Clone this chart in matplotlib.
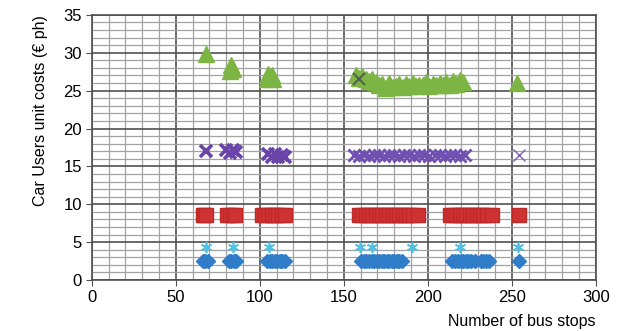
import numpy as np
import matplotlib
matplotlib.use('Agg')
from matplotlib import pyplot as plt
from matplotlib.ticker import MultipleLocator

plt.rcParams['font.family'] = ['Liberation Sans', 'DejaVu Sans']

# Green triangles
green_x = [68, 82, 83, 84, 104, 105, 106, 107, 108,
           157, 159, 161, 163, 165, 167, 169, 171, 173, 175, 177, 179, 181,
           183, 185, 187, 189, 191, 193, 195, 197, 199, 201, 203, 205, 207,
           209, 211, 213, 215, 217, 219, 221, 253]
green_y = [29.9, 27.6, 28.4, 27.8, 26.6, 27.2, 26.8, 27.0, 26.5,
           27.0, 26.7, 26.9, 26.5, 26.3, 26.6, 26.1, 25.8, 25.9, 25.4, 26.0,
           25.5, 25.6, 25.9, 25.5, 25.9, 25.6, 26.0, 25.6, 25.8, 25.7, 26.1,
           25.6, 25.9, 25.7, 26.0, 25.8, 26.2, 25.7, 26.3, 25.9, 26.4, 26.1, 26.0]

# Purple crosses
purple_x = [68, 80, 82, 84, 86, 105, 107, 109, 111, 113, 115]
purple_y = [17.0, 17.2, 16.8, 17.1, 16.9, 16.7, 16.3, 16.6, 16.2, 16.5, 16.3]
purple_cluster_x = [156, 159, 162, 165, 168, 171, 174, 177, 180, 183, 186,
                    189, 192, 195, 198, 201, 204, 207, 210, 213, 216, 219, 222]
purple_cluster_y = [16.5, 16.4, 16.5, 16.4, 16.5, 16.5, 16.4, 16.5, 16.5,
                    16.4, 16.5, 16.5, 16.4, 16.5, 16.5, 16.4, 16.5, 16.5,
                    16.4, 16.5, 16.5, 16.4, 16.5]
purple_last_x = [254]
purple_last_y = [16.5]

# Grey cross in the green cluster
grey_x = [159]
grey_y = [26.5]

# Red squares
red_x = [66, 67, 68, 80.5, 82, 84, 85.5,
         101.5, 103, 105, 107, 109, 111, 113, 115,
         159, 161, 163, 165, 167, 169, 171, 173, 175, 177, 179, 181, 183,
         185, 187, 189, 191, 194,
         213, 215, 217, 219, 221, 223, 225, 227, 229, 231, 233, 235, 238.5,
         254]
red_y = [8.6] * len(red_x)

# Blue diamonds
blue_x = [66, 67.5, 69, 81.5, 83, 84.5, 86,
          104.5, 106, 107.5, 109, 110.5, 112, 113.5, 115,
          160.5, 162, 163.5, 165, 166.5, 168, 169.5, 171, 172.5, 174, 175.5,
          177, 178.5, 180, 181.5, 183, 184.5,
          214.5, 216, 218, 219.5, 221, 222.5, 224, 225.5, 228, 231.5, 233,
          234.5, 236.5,
          254]
blue_y = [2.5] * len(blue_x)

# Cyan asterisks
cyan_x = [68, 84, 105.5, 159.5, 166.5, 190.5, 219, 253.6]
cyan_y = [4.3] * len(cyan_x)

fig = plt.figure(figsize=(6.2, 3.31), dpi=100)
ax = fig.add_axes([0.148, 0.154, 0.813, 0.801])

ax.plot(green_x, green_y, linestyle='none', marker='^', markersize=11.5,
        color='#7cb544', markeredgecolor='#7cb544')
ax.plot(purple_x, purple_y, linestyle='none', marker='x', markersize=8,
        markeredgewidth=2.6, color='#6a44a8')
ax.plot(purple_cluster_x, purple_cluster_y, linestyle='none', marker='x',
        markersize=8, markeredgewidth=2.0, color='#7050b0')
ax.plot(purple_last_x, purple_last_y, linestyle='none', marker='x',
        markersize=8, markeredgewidth=1.0, color='#7a62b0')
ax.plot(grey_x, grey_y, linestyle='none', marker='x', markersize=8,
        markeredgewidth=1.5, color='#55604a')
ax.plot(red_x, red_y, linestyle='none', marker='s', markersize=9.5,
        color='#cf3232', markeredgecolor='#c02828')
ax.plot(blue_x, blue_y, linestyle='none', marker='D', markersize=7,
        color='#2f7cc8', markeredgecolor='#2f7cc8')
ax.plot(cyan_x, cyan_y, linestyle='none', marker=(6, 2, 0), markersize=8,
        markeredgewidth=1.2, color='#4ec0e2')

ax.set_xlim(0, 300)
ax.set_ylim(0, 35)
ax.xaxis.set_major_locator(MultipleLocator(50))
ax.xaxis.set_minor_locator(MultipleLocator(10))
ax.yaxis.set_major_locator(MultipleLocator(5))
ax.yaxis.set_minor_locator(MultipleLocator(1))
ax.grid(which='minor', color='#a2a2a2', linewidth=0.9)
ax.grid(which='major', color='#505050', linewidth=1.2)
ax.set_axisbelow(True)

ax.tick_params(which='major', labelsize=12, length=4, color='#505050', pad=3)
ax.tick_params(which='minor', length=0)
for s in ax.spines.values():
    s.set_color('#505050')
    s.set_linewidth(1.2)

ax.set_xlabel('Number of bus stops', fontsize=11.5, loc='right', labelpad=7)
ax.set_ylabel('Car Users unit costs (€ ph)', fontsize=11.5)
ax.yaxis.set_label_coords(-0.087, 0.64)

fig.savefig('out.png', dpi=100)
